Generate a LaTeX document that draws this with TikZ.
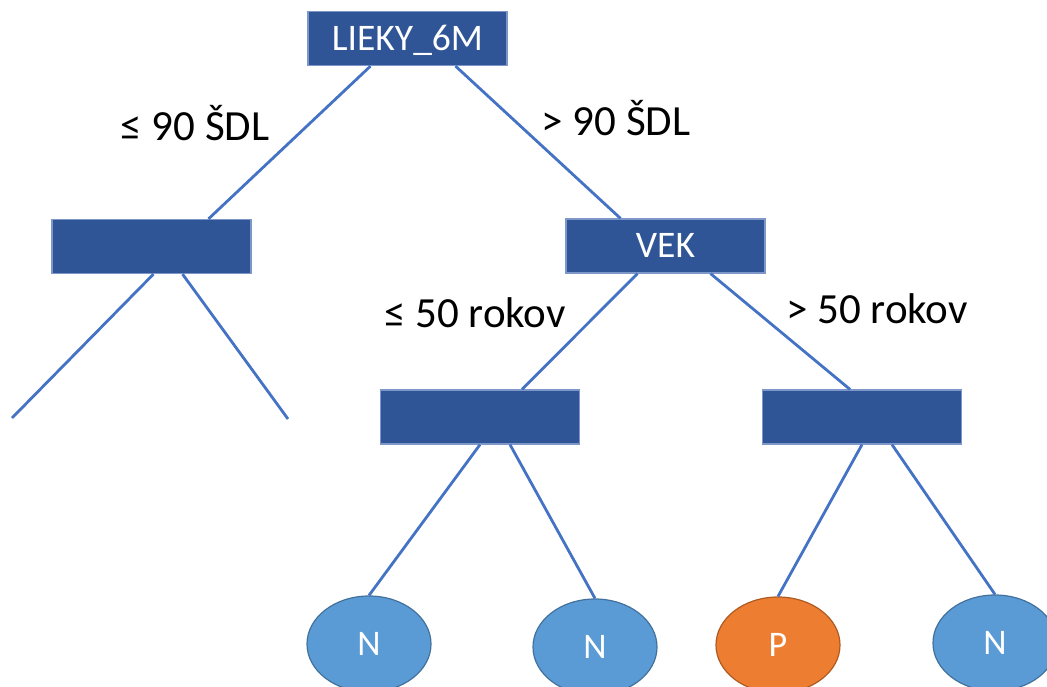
\documentclass[tikz,border=0pt]{standalone}
\usepackage{fontspec}
\setmainfont{Carlito}
\usetikzlibrary{shapes.geometric,calc}
\definecolor{boxblue}{RGB}{47,85,151}
\definecolor{boxedge}{RGB}{124,151,200}
\definecolor{linkblue}{RGB}{68,114,196}
\definecolor{leafblue}{RGB}{91,155,213}
\definecolor{leafedge}{RGB}{65,113,156}
\definecolor{leaforange}{RGB}{237,125,49}
\definecolor{orangeedge}{RGB}{174,90,33}
\tikzset{
  treebox/.style={rectangle, fill=boxblue, draw=boxedge, line width=1.2pt,
    minimum width=199pt, minimum height=54pt, inner sep=0pt,
    font=\fontsize{37.5}{44}\selectfont, text=white, text height=24pt, text depth=0pt},
  leaf/.style={ellipse, fill=leafblue, draw=leafedge, line width=1.2pt,
    minimum width=124pt, minimum height=96pt, inner sep=0pt,
    font=\fontsize{36}{42}\selectfont, text=white},
  leafp/.style={leaf, fill=leaforange, draw=orangeedge},
  link/.style={draw=linkblue, line width=2.8pt},
  edgelabel/.style={font=\fontsize{43}{50}\selectfont, text=black, anchor=base, inner sep=0pt}
}
\begin{document}
\begin{tikzpicture}[x=1pt,y=-1pt]
\useasboundingbox (0,0) rectangle (1047,687);
% boxes
\node[treebox] (top) at (407.5,38.5) {LIEKY\_6M};
\node[treebox] (left) at (151.5,246.5) {};
\node[treebox] (vek) at (665.5,246) {VEK};
\node[treebox] (ml) at (480,417) {};
\node[treebox] (mr) at (862,417) {};
% leaves
\node[leaf] (n1) at (369,644) {N};
\node[leaf] (n2) at (595,647) {N};
\node[leafp] (p1) at (778,645) {P};
\node[leaf] (n3) at (995,643) {N};
% free ends
\coordinate (le1) at (12,418);
\coordinate (le2) at (288,419);
% links
\draw[link] ([xshift=-37pt]top.south) -- ([xshift=57pt]left.north);
\draw[link] ([xshift=48pt]top.south) -- ([xshift=-45pt]vek.north);
\draw[link] ([xshift=2pt]left.south) -- (le1);
\draw[link] ([xshift=31pt]left.south) -- (le2);
\draw[link] ([xshift=-28pt]vek.south) -- ([xshift=42pt]ml.north);
\draw[link] ([xshift=45pt]vek.south) -- ([xshift=-12pt]mr.north);
\draw[link] ([xshift=0pt]ml.south) -- (n1.north);
\draw[link] ([xshift=30pt]ml.south) -- (n2.north);
\draw[link] ([xshift=0pt]mr.south) -- (p1.north);
\draw[link] ([xshift=30pt]mr.south) -- (n3.north);
% labels
\node[edgelabel] (l1) at (195,141) {≤ 90 ŠDL};
\node[edgelabel] (l2) at (616,136) {> 90 ŠDL};
\node[edgelabel] (l3) at (475,327) {≤ 50 rokov};
\node[edgelabel] (l4) at (877,323) {> 50 rokov};
\end{tikzpicture}
\end{document}
